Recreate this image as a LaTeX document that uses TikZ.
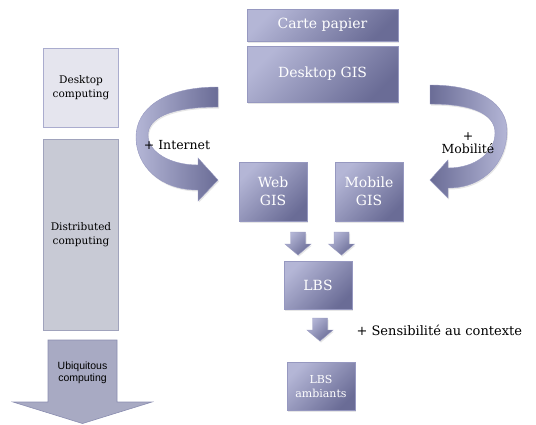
\documentclass[tikz,border=0pt]{standalone}
\usepackage{fontspec}
\setmainfont{DejaVu Serif}
\newfontfamily\helvfont{Liberation Sans}
\usetikzlibrary{shadows}

\definecolor{gislight}{RGB}{180,182,214}
\definecolor{gisdark}{RGB}{106,108,150}
\definecolor{gisline}{RGB}{150,152,192}
\definecolor{deskfill}{RGB}{229,229,238}
\definecolor{deskline}{RGB}{170,172,206}
\definecolor{distfill}{RGB}{200,202,213}
\definecolor{distline}{RGB}{160,163,188}
\definecolor{ubiqfill}{RGB}{168,170,195}
\definecolor{ubiqline}{RGB}{138,141,176}

\begin{document}
\begin{tikzpicture}[x=1pt, y=-1pt,
  softshadow/.style={drop shadow={opacity=0.2, shadow xshift=1pt, shadow yshift=-1.5pt}},
  gisbox/.style={draw=gisline, line width=0.6pt, top color=gislight, bottom color=gisdark,
    shading angle=45, text=white, inner sep=2pt, align=center, softshadow},
  bigtxt/.style={font=\fontsize{14}{17.5}\selectfont},
  smalltxt/.style={font=\fontsize{10.5}{14}\selectfont},
  erabox/.style={draw, line width=0.6pt, minimum width=75pt, align=center, smalltxt},
  curvearrow/.style={draw=gisline, line width=0.4pt, softshadow},
  smallarrow/.style={draw=gisline, line width=0.4pt, top color=gislight, bottom color=gisdark,
    shading angle=45, softshadow}]
\useasboundingbox (0,0) rectangle (536,424);

% left column
\node[erabox, draw=deskline, fill=deskfill, minimum height=79pt] (deskc) at (81,88) {Desktop\\computing};
\node[erabox, draw=distline, fill=distfill, minimum height=191pt] (distc) at (81,234.5) {Distributed\\computing};
\draw[ubiqline, fill=ubiqfill, line width=0.6pt] (48,340) -- (117,340) -- (117,402) -- (152,402)
  -- (82.5,423.5) -- (13,402) -- (48,402) -- cycle;
\node[font=\helvfont\fontsize{10.5}{12}\selectfont, align=center] (ubiq) at (82.5,373) {Ubiquitous\\computing};

% GIS boxes
\node[gisbox, bigtxt, minimum width=151pt, minimum height=32pt] (carte) at (322.5,25) {Carte papier};
\node[gisbox, bigtxt, minimum width=151pt, minimum height=56pt] (dgis) at (322.5,74) {Desktop GIS};
\node[gisbox, bigtxt, minimum width=68pt, minimum height=59pt] (web) at (273,191.5) {Web\\GIS};
\node[gisbox, bigtxt, minimum width=68pt, minimum height=59pt] (mobile) at (369,191.5) {Mobile\\GIS};
\node[gisbox, bigtxt, minimum width=68pt, minimum height=48pt] (lbs) at (318,285) {LBS};
\node[gisbox, font=\fontsize{11}{14}\selectfont, minimum width=68pt, minimum height=48pt] (amb) at (321,386) {LBS\\ambiants};

% curved arrows
\shade[curvearrow, left color=gislight, right color=gisdark]
  (218,87) .. controls (162,87) and (136,110) .. (136,137)
  .. controls (136,166) and (160,190) .. (198,190) -- (198,201) -- (218,180) -- (198,158) -- (198,165)
  .. controls (170,165) and (148,152) .. (148,135)
  .. controls (148,118) and (170,107) .. (218,107) -- cycle;
\shade[curvearrow, left color=gisdark, right color=gislight]
  (430,85) .. controls (482,85) and (507,105) .. (507,131)
  .. controls (507,161) and (485,188) .. (448,188) -- (448,198) -- (430,180) -- (448,160) -- (448,168)
  .. controls (476,168) and (495,152) .. (495,133)
  .. controls (495,115) and (475,104) .. (430,104) -- cycle;

% small arrows
\foreach \p in {(298,232),(341.5,232),(320,318)}
  \shade[smallarrow] \p ++(-7.5,0) -- ++(15,0) -- ++(0,12) -- ++(5.5,0) -- ++(-13,11)
    -- ++(-13,-11) -- ++(5.5,0) -- cycle;

% labels
\node[font=\fontsize{12.5}{14}\selectfont] (inet) at (177,145) {+ Internet};
\node[font=\fontsize{12.5}{13}\selectfont, align=center] (mobi) at (468,143) {+\\Mobilité};
\node[font=\fontsize{13}{15}\selectfont, anchor=west] (ctx) at (353,330) {+ Sensibilité au contexte};
\end{tikzpicture}
\end{document}
